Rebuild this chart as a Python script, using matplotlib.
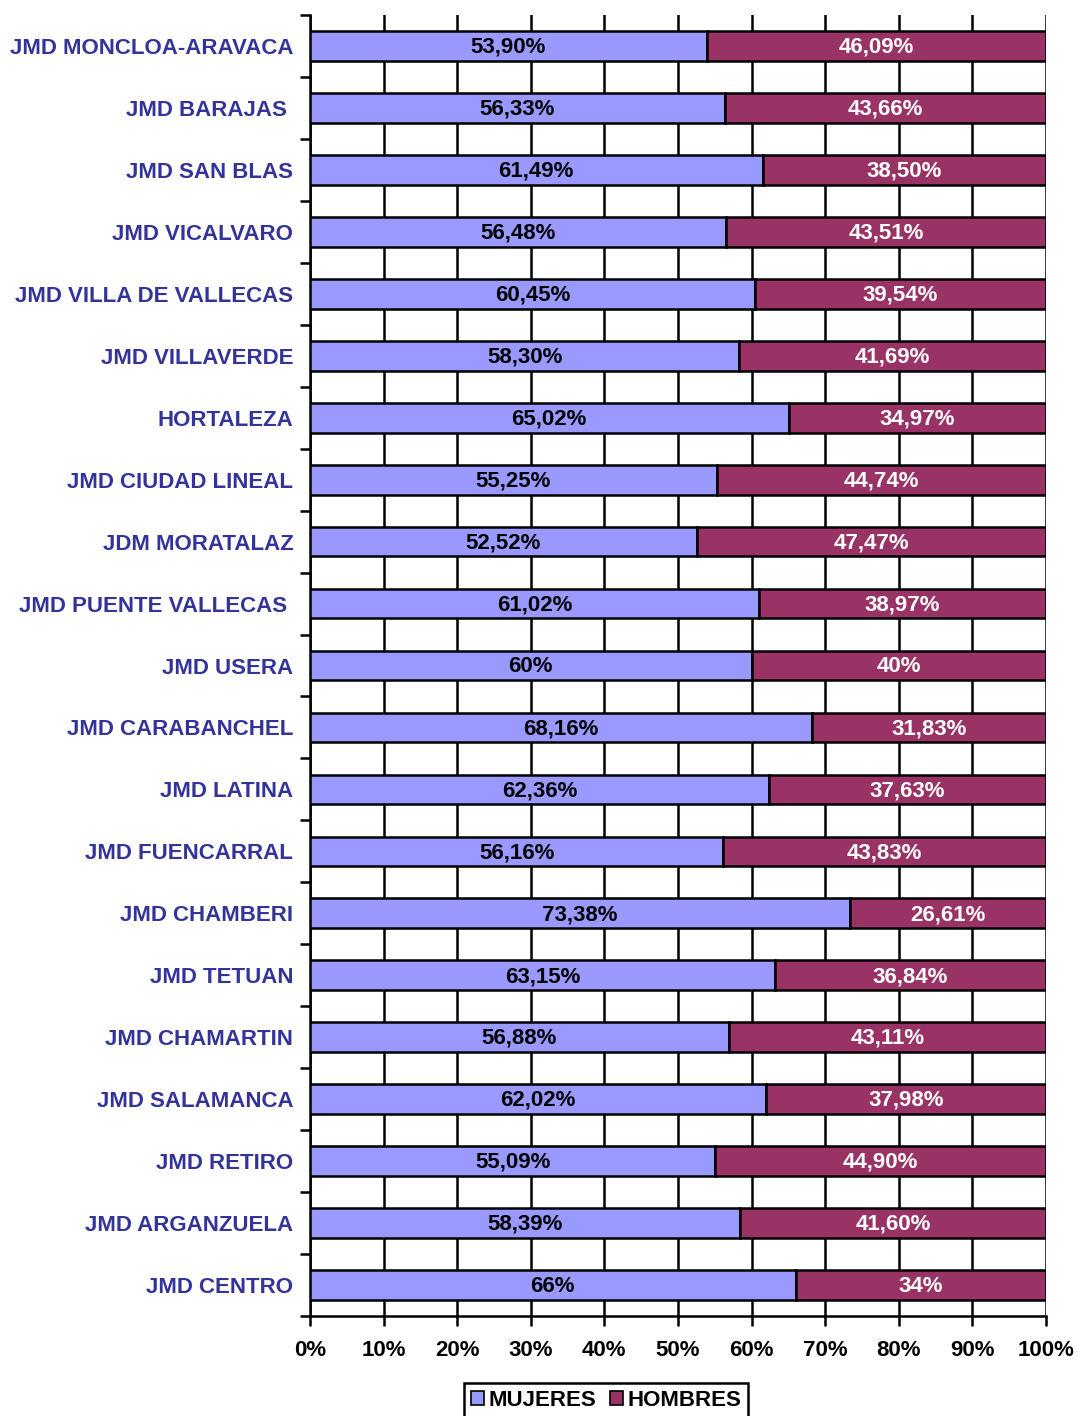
import matplotlib.pyplot as plt
import numpy as np

plt.rcParams['font.family'] = ['Liberation Sans', 'DejaVu Sans']
plt.rcParams['font.weight'] = 'bold'

districts = ["JMD MONCLOA-ARAVACA", "JMD BARAJAS ", "JMD SAN BLAS", "JMD VICALVARO",
             "JMD VILLA DE VALLECAS", "JMD VILLAVERDE", "HORTALEZA", "JMD CIUDAD LINEAL",
             "JDM MORATALAZ", "JMD PUENTE VALLECAS ", "JMD USERA", "JMD CARABANCHEL",
             "JMD LATINA", "JMD FUENCARRAL", "JMD CHAMBERI", "JMD TETUAN",
             "JMD CHAMARTIN", "JMD SALAMANCA", "JMD RETIRO", "JMD ARGANZUELA", "JMD CENTRO"]
mujeres = [53.90, 56.33, 61.49, 56.48, 60.45, 58.30, 65.02, 55.25, 52.52, 61.02, 60,
           68.16, 62.36, 56.16, 73.38, 63.15, 56.88, 62.02, 55.09, 58.39, 66]
hombres = [46.09, 43.66, 38.50, 43.51, 39.54, 41.69, 34.97, 44.74, 47.47, 38.97, 40,
           31.83, 37.63, 43.83, 26.61, 36.84, 43.11, 37.98, 44.90, 41.60, 34]

col_m = "#9999FF"
col_h = "#993366"
navy = "#333399"
fs = 16


def fmt(v):
    if float(v).is_integer():
        return f"{int(v)}%"
    return f"{v:.2f}".replace(".", ",") + "%"


fig = plt.figure(figsize=(10.77, 14.16), dpi=100)
ax = fig.add_axes([0.2878, 0.0706, 0.6834, 0.9188])

y = np.arange(len(districts))
tot = np.array(mujeres) + np.array(hombres)
m_pct = np.array(mujeres) / tot * 100
h_pct = np.array(hombres) / tot * 100

ax.barh(y, m_pct, height=0.48, color=col_m, edgecolor="black", linewidth=1.8, zorder=3)
ax.barh(y, h_pct, left=m_pct, height=0.48, color=col_h, edgecolor="black", linewidth=1.8, zorder=3)

for i in range(len(y)):
    ax.text(m_pct[i] / 2, y[i] + 0.02, fmt(mujeres[i]), ha="center", va="center",
            fontsize=fs, fontweight="bold", color="black", zorder=4)
    ax.text(m_pct[i] + h_pct[i] / 2, y[i] + 0.02, fmt(hombres[i]), ha="center", va="center",
            fontsize=fs, fontweight="bold", color="white", zorder=4)

ax.set_xlim(0, 100)
ax.set_ylim(len(y) - 0.5, -0.5)

ax.set_xticks(np.arange(0, 101, 10))
ax.set_xticklabels([f"{t}%" for t in range(0, 101, 10)], fontsize=fs, fontweight="bold")
ax.tick_params(axis="x", length=7, width=1.8, pad=10)
ax.xaxis.grid(True, color="black", linewidth=1.8, zorder=1)

ax.set_yticks(np.arange(len(y) + 1) - 0.5)
ax.set_yticklabels([])
ax.set_yticks(y, minor=True)
ax.set_yticklabels(districts, minor=True, fontsize=fs, fontweight="bold", color=navy)
ax.tick_params(axis="y", which="major", length=7, width=1.8)
ax.tick_params(axis="y", which="minor", length=0, pad=12)

ax.spines["top"].set_visible(False)
ax.spines["right"].set_visible(False)
ax.spines["left"].set_linewidth(1.8)
ax.spines["bottom"].set_linewidth(1.8)
ax.set_axisbelow(True)

leg = fig.legend(handles=[plt.Rectangle((0, 0), 1, 1, facecolor=col_m, edgecolor="black", linewidth=1.2),
                          plt.Rectangle((0, 0), 1, 1, facecolor=col_h, edgecolor="black", linewidth=1.2)],
                 labels=["MUJERES", "HOMBRES"], loc="upper center", bbox_to_anchor=(0.5627, 0.0233),
                 borderaxespad=0, ncol=2, fancybox=False, framealpha=1, edgecolor="black",
                 handlelength=0.6, handleheight=0.6, handletextpad=0.2, columnspacing=0.6,
                 borderpad=0.3, prop={"size": fs, "weight": "bold"})
leg.get_frame().set_linewidth(1.8)

fig.savefig("out.png", dpi=100)
